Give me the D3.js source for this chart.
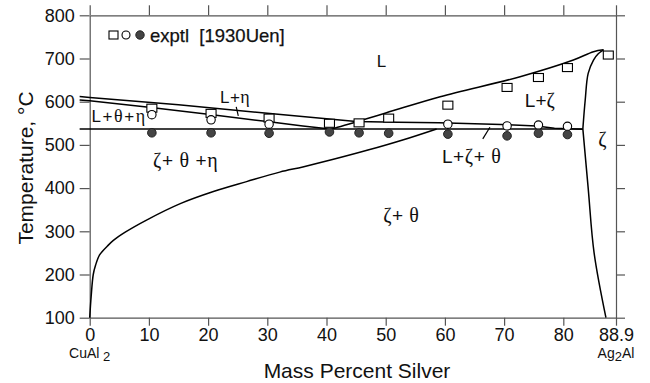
<!DOCTYPE html>
<html><head><meta charset="utf-8">
<script src="https://cdn.jsdelivr.net/npm/d3@7"></script>
<style>body{margin:0;background:#fff}svg{display:block}</style>
</head><body>
<script>
// ---- data ----
const xTicks = [0,10,20,30,40,50,60,70,80,88.9];
const yTicks = [100,200,300,400,500,600,700,800];
const liquidusEta = [[-1.7,612],[0,610],[15,593],[30,573],[45,554],[52,552.5],[59,551],[68,548],[75.5,544],[78.5,538.5],[83.3,536.5]];
const liquidusTheta = [[-1.7,604],[0,602],[10,587],[20,571],[30,554],[36,544],[40.6,537]];
const eutectic = [[-1.7,537],[83.3,537]];
const liquidusZeta = [[40.6,537],[41.2,538.4],[50,574],[59.2,611.6],[72.7,657.9],[81.7,696.5],[85.1,715.7],[86.8,720]];
const solidusZeta = [[86.8,720],[85.9,711],[85.1,696.5],[84.2,665.7],[83.7,604],[83.3,537]];
const solvusZeta = [[83.3,537],[84.2,400],[85.2,250],[87.2,100]];
const solvusTheta = [[0,100],[0.25,150],[0.6,200],[1,222],[1.7,246],[3,266],[4,279],[6,298],[9.6,326],[15.3,364],[20.9,392],[26.5,415],[32.1,437],[36,449],[41,466],[47,488],[53,512],[58.6,537]];
const exptSquares = [[10.5,585],[20.5,573],[30.3,562],[40.5,550],[45.5,551],[50.5,562],[60.5,592],[70.5,633],[75.8,656],[80.7,679],[87.6,708]];
const exptOpen = [[10.5,570],[20.5,558],[30.3,548],[60.5,548],[70.5,544],[75.8,546],[80.7,543]];
const exptFilled = [[10.5,528],[20.5,528],[30.3,527],[40.5,530],[45.5,528],[50.5,527],[60.5,525],[70.5,521],[75.8,527],[80.7,524]];
const phaseLabels = [
  {t:["L"], x:48.5, y:681, fs:17, ls:0},
  {t:["L+","η"], x:22, y:596, fs:17, ls:0.5},
  {t:["L+","θ","+","η"], x:0.3, y:554, fs:17, ls:1.6},
  {t:["","ζ","+ ","θ"," +","η"], x:10.7, y:449, fs:19, ls:0.6},
  {t:["L+","ζ","+ ","θ"], x:59.5, y:457, fs:19, ls:0.6},
  {t:["","ζ","+ ","θ"], x:49.6, y:321.5, fs:19, ls:0.4},
  {t:["L+","ζ"], x:73.5, y:588.5, fs:19, ls:0},
  {t:["","ζ"], x:85.9, y:497, fs:19, ls:0}
];
const leaders = [[[24.75,588],[25.1,567]],[[66.4,514],[67.6,541]]];

// ---- chart ----
const W=650,H=383;
const svg=d3.select("body").append("svg").attr("width",W).attr("height",H);
const x=d3.scaleLinear().domain([0,88.9]).range([89.7,616]);
const y=d3.scaleLinear().domain([100,800]).range([317.7,15.3]);
const sans="'Liberation Sans', Arial, Helvetica, sans-serif";
const serif="'Liberation Serif','Times New Roman',serif";
const axCol="#555";
const txt="#111";

function styleAxis(g){
  g.select(".domain").attr("stroke",axCol).attr("stroke-width",1.2);
  g.selectAll(".tick line").attr("stroke",axCol).attr("stroke-width",1.2);
}
const fmtX = d=> d===88.9?"88.9":d3.format("d")(d);
const gB=svg.append("g").attr("transform",`translate(0,${y(100)})`)
  .call(d3.axisBottom(x).tickValues(xTicks).tickSize(8).tickSizeOuter(0).tickPadding(3).tickFormat(fmtX));
styleAxis(gB);
gB.selectAll("text").attr("font-family",sans).attr("font-size",18).attr("fill",txt);
const gT=svg.append("g").attr("transform",`translate(0,${y(800)})`)
  .call(d3.axisTop(x).tickValues(xTicks).tickSize(10).tickSizeOuter(0).tickFormat(""));
styleAxis(gT);
const gL=svg.append("g").attr("transform",`translate(${x(0)},0)`)
  .call(d3.axisLeft(y).tickValues(yTicks).tickSize(10).tickSizeOuter(0).tickPadding(5));
styleAxis(gL);
gL.selectAll("text").attr("font-family",sans).attr("font-size",18).attr("fill",txt);
const gR=svg.append("g").attr("transform",`translate(${x(88.9)},0)`)
  .call(d3.axisRight(y).tickValues(yTicks).tickSize(9).tickSizeOuter(0).tickFormat(""));
styleAxis(gR);

// curves
const line=d3.line().x(d=>x(d[0])).y(d=>y(d[1]));
const smooth=d3.line().x(d=>x(d[0])).y(d=>y(d[1])).curve(d3.curveCatmullRom.alpha(0.5));
const curves=[[liquidusEta,line],[liquidusTheta,line],[eutectic,line],[liquidusZeta,smooth],[solidusZeta,smooth],[solvusZeta,smooth],[solvusTheta,smooth]];
curves.forEach(([d,l])=>svg.append("path").attr("d",l(d)).attr("fill","none").attr("stroke","#000").attr("stroke-width",1.5));
leaders.forEach(d=>svg.append("path").attr("d",line(d)).attr("stroke","#000").attr("stroke-width",1.2));

// experimental points
svg.selectAll(".sq").data(exptSquares).join("rect")
  .attr("x",d=>x(d[0])-5).attr("y",d=>y(d[1])-4).attr("width",10).attr("height",8)
  .attr("fill","#fff").attr("stroke","#000").attr("stroke-width",1.1);
svg.selectAll(".oc").data(exptOpen).join("circle")
  .attr("cx",d=>x(d[0])).attr("cy",d=>y(d[1])).attr("r",4.2)
  .attr("fill","#fff").attr("stroke","#000").attr("stroke-width",1.1);
svg.selectAll(".fc").data(exptFilled).join("circle")
  .attr("cx",d=>x(d[0])).attr("cy",d=>y(d[1])).attr("r",4.3)
  .attr("fill","#444").attr("stroke","#222").attr("stroke-width",1);

// legend
svg.append("rect").attr("x",109).attr("y",31).attr("width",9).attr("height",8).attr("fill","#fff").attr("stroke","#000").attr("stroke-width",1.1);
svg.append("circle").attr("cx",126).attr("cy",35).attr("r",4).attr("fill","#fff").attr("stroke","#000").attr("stroke-width",1.1);
svg.append("circle").attr("cx",140).attr("cy",35).attr("r",4.2).attr("fill","#444").attr("stroke","#222");
svg.append("text").attr("x",150).attr("y",42).attr("font-family",sans).attr("font-size",18.5).attr("fill",txt)
  .attr("stroke",txt).attr("stroke-width",0.25)
  .attr("xml:space","preserve").text("exptl  [1930Uen]");

// phase labels
phaseLabels.forEach(p=>{
  const t=svg.append("text").attr("x",x(p.x)).attr("y",y(p.y)).attr("font-size",p.fs).attr("fill",txt)
    .attr("letter-spacing",p.ls).attr("xml:space","preserve");
  p.t.forEach((s,i)=>{
    if(!s) return;
    t.append("tspan").attr("font-family", i%2===1?serif:sans).attr("font-size", i%2===1?p.fs+1:p.fs).text(s);
  });
});

// axis titles
svg.append("text").attr("transform","translate(33,168) rotate(-90)").attr("text-anchor","middle")
  .attr("font-family",sans).attr("font-size",21).attr("fill",txt).text("Temperature, °C");
svg.append("text").attr("x",357).attr("y",378).attr("text-anchor","middle")
  .attr("font-family",sans).attr("font-size",21).attr("fill",txt).text("Mass Percent Silver");
const cu=svg.append("text").attr("x",x(0)).attr("y",358).attr("text-anchor","middle").attr("font-family",sans).attr("font-size",14).attr("fill",txt);
cu.append("tspan").text("CuAl");
cu.append("tspan").attr("dy",3).attr("font-size",13).text(" 2");
const ag=svg.append("text").attr("x",x(88.9)).attr("y",358).attr("text-anchor","middle").attr("font-family",sans).attr("font-size",14).attr("fill",txt);
ag.append("tspan").text("Ag");
ag.append("tspan").attr("dy",3).attr("font-size",13).text("2");
ag.append("tspan").attr("dy",-3).text("Al");
</script>
</body></html>
